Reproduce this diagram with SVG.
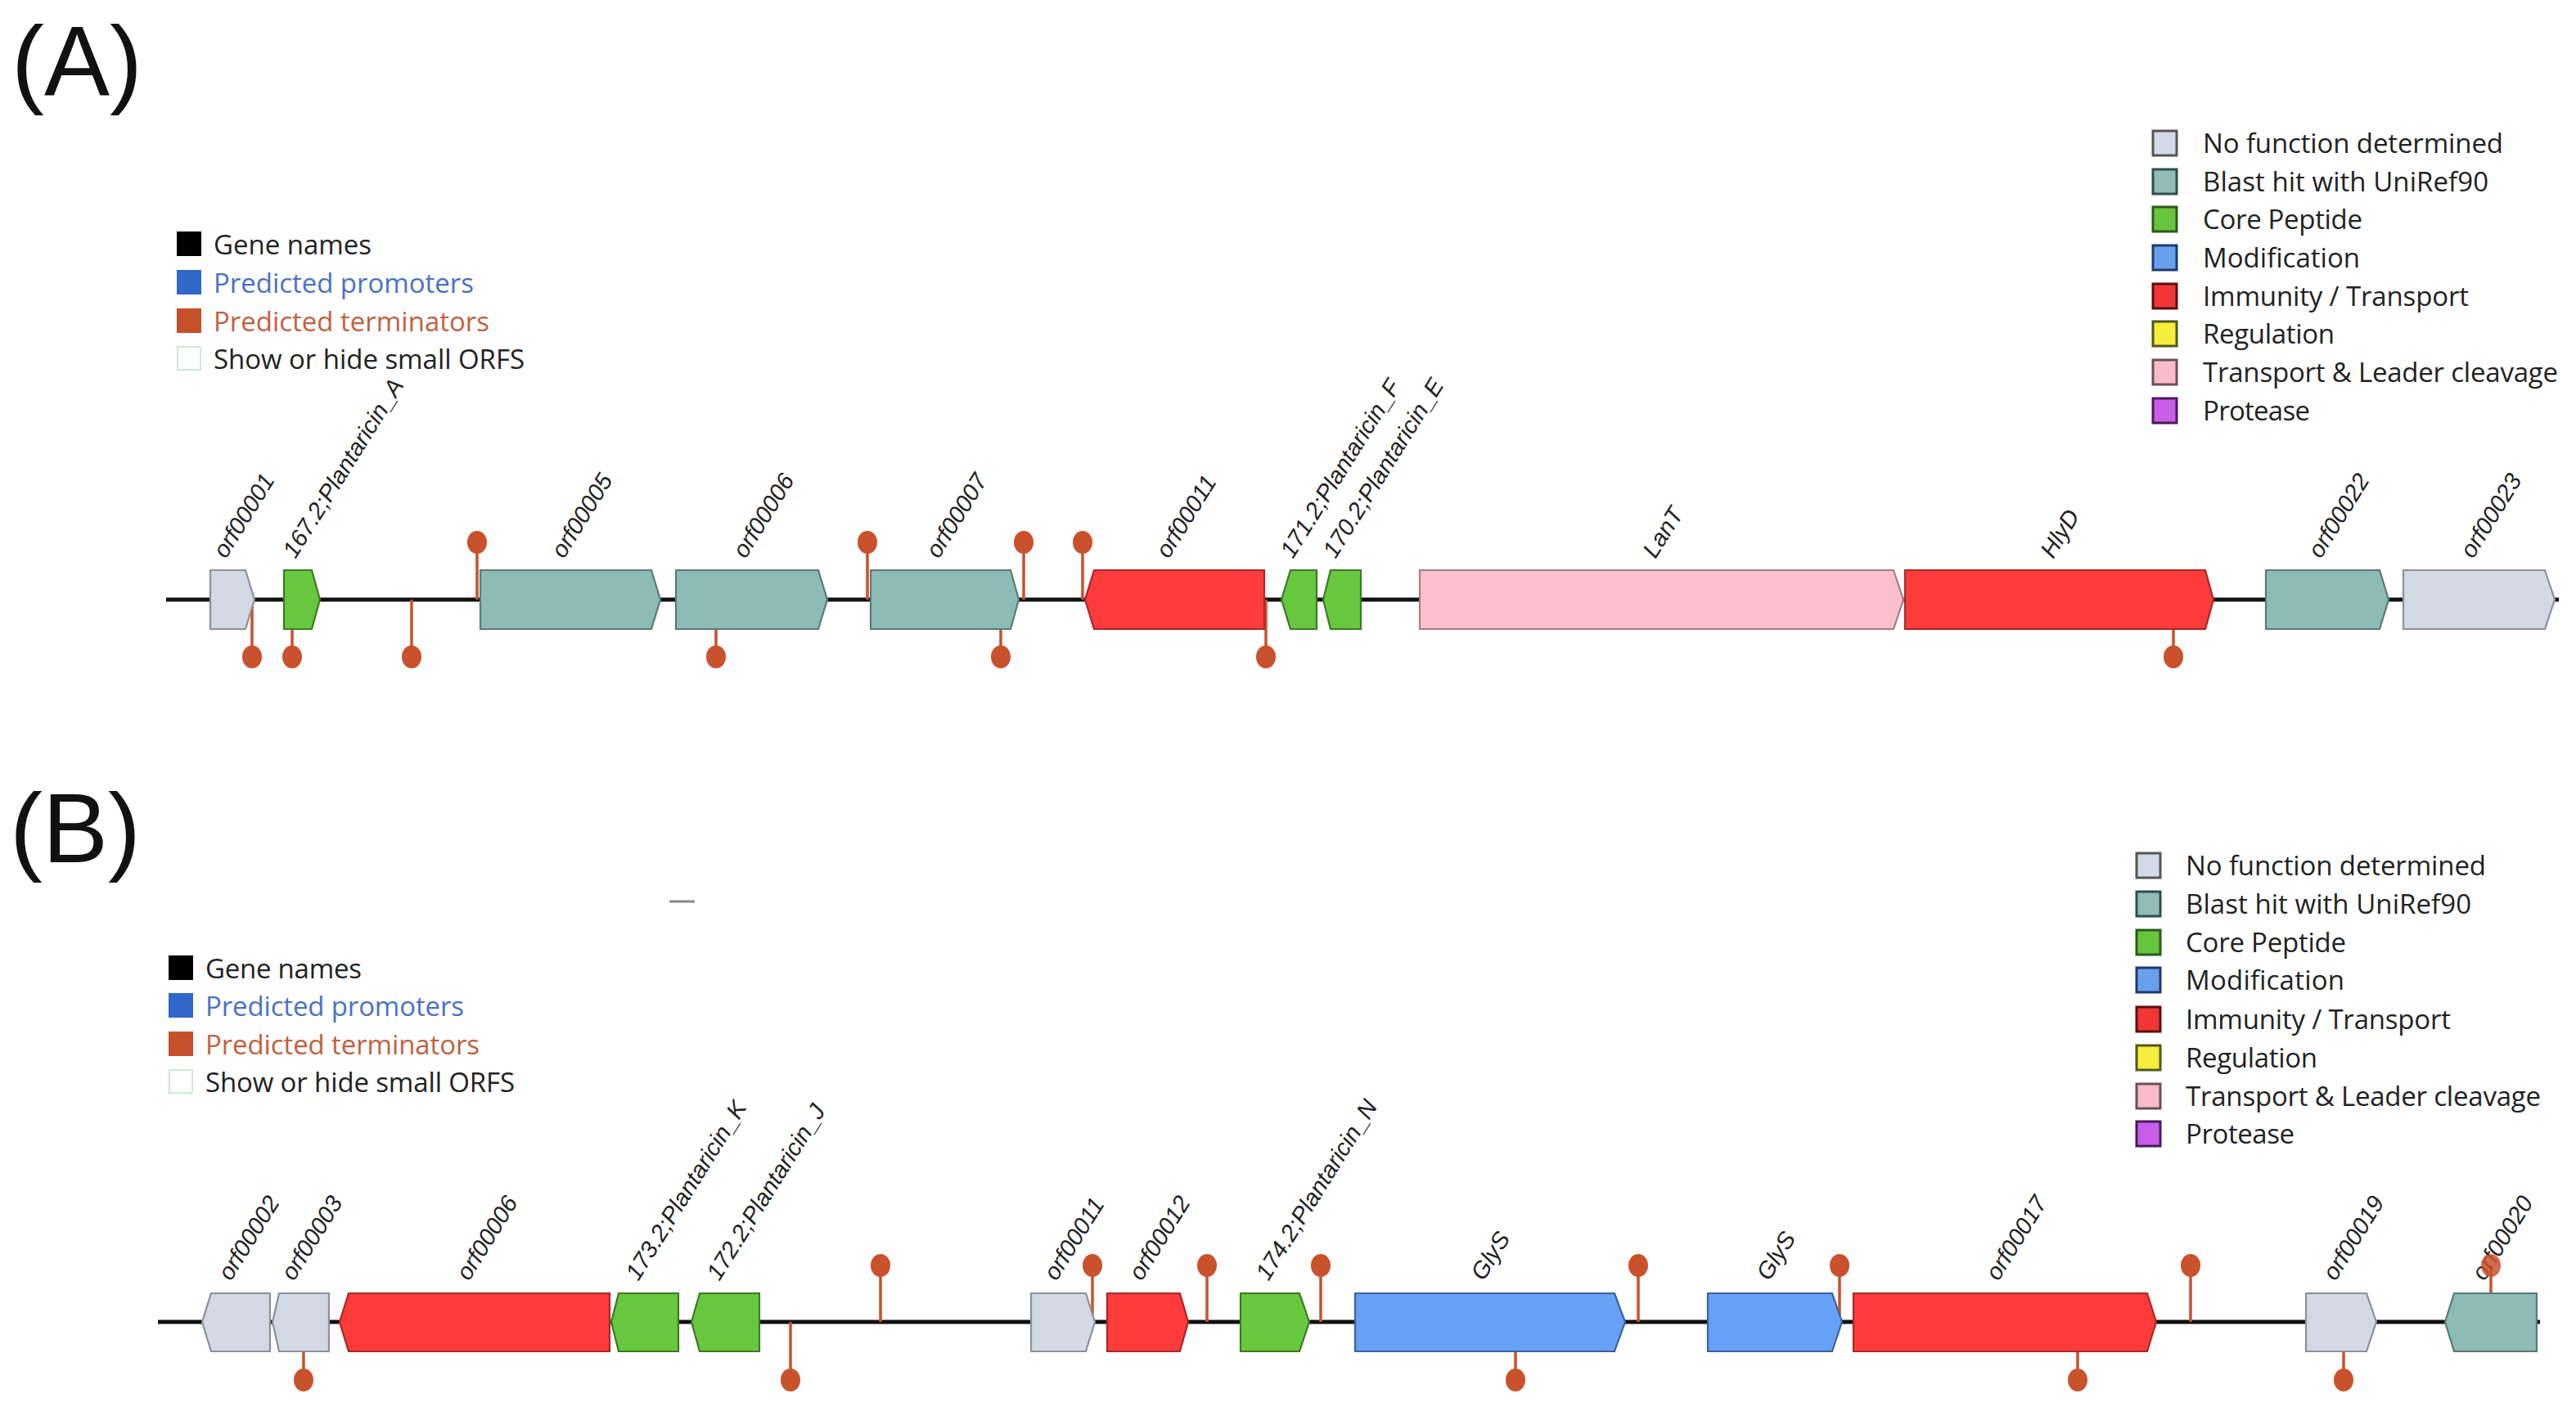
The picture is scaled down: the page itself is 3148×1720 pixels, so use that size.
<svg xmlns="http://www.w3.org/2000/svg" width="3148" height="1720" viewBox="0 0 3148 1720">
<style>
.bb{stroke:#111;stroke-width:5;fill:none}
.stem{stroke:#c9512b;stroke-width:3.5;fill:none}
.term{fill:#c9512b}
.g polygon{stroke-width:2.2}
.nf{fill:#d3d9e4;stroke:#8b9099}
.bh{fill:#8dbbb6;stroke:#5b7a76}
.cp{fill:#67c83f;stroke:#3d7a25}
.mo{fill:#66a0f7;stroke:#3d6296}
.it{fill:#fd3b3b;stroke:#a82828}
.tl{fill:#fdbfcb;stroke:#9d7f87}
.lbl{font-family:"Liberation Sans",Arial,sans-serif;font-style:italic;font-size:29px;fill:#222}
.leg{font-family:"Open Sans","Liberation Sans",sans-serif;font-size:33px;fill:#222}
.panel{font-family:"Liberation Sans",Arial,sans-serif;font-size:120px;fill:#111}
.ls{stroke-width:3}
</style>

<!-- Panel labels -->
<text class="panel" x="14" y="116">(A)</text>
<text class="panel" x="12" y="1054">(B)</text>
<line x1="818" y1="1102" x2="849" y2="1102" stroke="#888" stroke-width="3"/>

<!-- Left legends -->
<g id="legendA-left">
  <rect x="216" y="283" width="30" height="30" fill="#000"/>
  <text class="leg" x="261" y="311" textLength="193">Gene names</text>
  <rect x="216" y="330" width="30" height="30" fill="#2f68c8"/>
  <text class="leg" x="261" y="358" textLength="318" style="fill:#4a72c4">Predicted promoters</text>
  <rect x="216" y="377" width="30" height="30" fill="#c5502a"/>
  <text class="leg" x="261" y="405" textLength="337" style="fill:#c4603f">Predicted terminators</text>
  <rect x="217" y="424" width="28" height="28" fill="#fff" stroke="#cfe8d8" stroke-width="2"/>
  <text class="leg" x="261" y="451" textLength="380">Show or hide small ORFS</text>
</g>
<g id="legendB-left">
  <rect x="206" y="1168" width="30" height="30" fill="#000"/>
  <text class="leg" x="251" y="1196" textLength="191">Gene names</text>
  <rect x="206" y="1214" width="30" height="30" fill="#2f68c8"/>
  <text class="leg" x="251" y="1242" textLength="316" style="fill:#4a72c4">Predicted promoters</text>
  <rect x="206" y="1261" width="30" height="30" fill="#c5502a"/>
  <text class="leg" x="251" y="1289" textLength="335" style="fill:#c4603f">Predicted terminators</text>
  <rect x="207" y="1308" width="28" height="28" fill="#fff" stroke="#cfe8d8" stroke-width="2"/>
  <text class="leg" x="251" y="1335" textLength="378">Show or hide small ORFS</text>
</g>

<!-- Right legends -->
<g id="legendA-right">
  <rect class="ls" x="2631" y="160" width="29" height="30" fill="#d3d9e6" stroke="#555"/>
  <text class="leg" x="2692" y="187" textLength="367">No function determined</text>
  <rect class="ls" x="2631" y="207" width="29" height="30" fill="#8fbcb7" stroke="#2f4f4b"/>
  <text class="leg" x="2692" y="234" textLength="349">Blast hit with UniRef90</text>
  <rect class="ls" x="2631" y="253" width="29" height="30" fill="#66c43d" stroke="#2c5a1a"/>
  <text class="leg" x="2692" y="280" textLength="195">Core Peptide</text>
  <rect class="ls" x="2631" y="300" width="29" height="30" fill="#68a0ee" stroke="#1f3a6b"/>
  <text class="leg" x="2692" y="327" textLength="192">Modification</text>
  <rect class="ls" x="2631" y="347" width="29" height="30" fill="#f23535" stroke="#5a1010"/>
  <text class="leg" x="2692" y="374" textLength="325">Immunity / Transport</text>
  <rect class="ls" x="2631" y="393" width="29" height="30" fill="#f5ee3d" stroke="#555520"/>
  <text class="leg" x="2692" y="420" textLength="161">Regulation</text>
  <rect class="ls" x="2631" y="440" width="29" height="30" fill="#f7bcc8" stroke="#6b5058"/>
  <text class="leg" x="2692" y="467" textLength="434">Transport &amp; Leader cleavage</text>
  <rect class="ls" x="2631" y="487" width="29" height="30" fill="#c85de8" stroke="#4a1a5a"/>
  <text class="leg" x="2692" y="514" textLength="131">Protease</text>
</g>
<g id="legendB-right">
  <rect class="ls" x="2611" y="1043" width="29" height="30" fill="#d3d9e6" stroke="#555"/>
  <text class="leg" x="2671" y="1070" textLength="367">No function determined</text>
  <rect class="ls" x="2611" y="1090" width="29" height="30" fill="#8fbcb7" stroke="#2f4f4b"/>
  <text class="leg" x="2671" y="1117" textLength="349">Blast hit with UniRef90</text>
  <rect class="ls" x="2611" y="1137" width="29" height="30" fill="#66c43d" stroke="#2c5a1a"/>
  <text class="leg" x="2671" y="1164" textLength="196">Core Peptide</text>
  <rect class="ls" x="2611" y="1183" width="29" height="30" fill="#68a0ee" stroke="#1f3a6b"/>
  <text class="leg" x="2671" y="1210" textLength="194">Modification</text>
  <rect class="ls" x="2611" y="1231" width="29" height="30" fill="#f23535" stroke="#5a1010"/>
  <text class="leg" x="2671" y="1258" textLength="324">Immunity / Transport</text>
  <rect class="ls" x="2611" y="1278" width="29" height="30" fill="#f5ee3d" stroke="#555520"/>
  <text class="leg" x="2671" y="1305" textLength="161">Regulation</text>
  <rect class="ls" x="2611" y="1325" width="29" height="30" fill="#f7bcc8" stroke="#6b5058"/>
  <text class="leg" x="2671" y="1352" textLength="434">Transport &amp; Leader cleavage</text>
  <rect class="ls" x="2611" y="1371" width="29" height="30" fill="#c85de8" stroke="#4a1a5a"/>
  <text class="leg" x="2671" y="1398" textLength="133">Protease</text>
</g>

<!-- Connectors: backbones and terminator stems -->
<g id="connectors">
  <line class="bb" x1="203" y1="733" x2="3127" y2="733"/>
  <line class="bb" x1="193" y1="1616" x2="3104" y2="1616"/>
  <line class="stem" x1="308" y1="733" x2="308" y2="803"/>
  <line class="stem" x1="357" y1="733" x2="357" y2="803"/>
  <line class="stem" x1="503" y1="733" x2="503" y2="803"/>
  <line class="stem" x1="875" y1="733" x2="875" y2="803"/>
  <line class="stem" x1="1223" y1="733" x2="1223" y2="803"/>
  <line class="stem" x1="1547" y1="733" x2="1547" y2="803"/>
  <line class="stem" x1="2656" y1="733" x2="2656" y2="803"/>
  <line class="stem" x1="583" y1="733" x2="583" y2="663"/>
  <line class="stem" x1="1060" y1="733" x2="1060" y2="663"/>
  <line class="stem" x1="1251" y1="733" x2="1251" y2="663"/>
  <line class="stem" x1="1323" y1="733" x2="1323" y2="663"/>
  <line class="stem" x1="371" y1="1616" x2="371" y2="1687"/>
  <line class="stem" x1="966" y1="1616" x2="966" y2="1687"/>
  <line class="stem" x1="1852" y1="1616" x2="1852" y2="1687"/>
  <line class="stem" x1="2539" y1="1616" x2="2539" y2="1687"/>
  <line class="stem" x1="2864" y1="1616" x2="2864" y2="1687"/>
  <line class="stem" x1="1076" y1="1616" x2="1076" y2="1547"/>
  <line class="stem" x1="1335" y1="1616" x2="1335" y2="1547"/>
  <line class="stem" x1="1475" y1="1616" x2="1475" y2="1547"/>
  <line class="stem" x1="1614" y1="1616" x2="1614" y2="1547"/>
  <line class="stem" x1="2002" y1="1616" x2="2002" y2="1547"/>
  <line class="stem" x1="2248" y1="1616" x2="2248" y2="1547"/>
  <line class="stem" x1="2677" y1="1616" x2="2677" y2="1547"/>
  <line class="stem" x1="3044" y1="1616" x2="3044" y2="1547"/>
</g>

<!-- Terminator heads -->
<g id="terminators">
  <ellipse class="term" cx="308" cy="803" rx="12" ry="14"/>
  <ellipse class="term" cx="357" cy="803" rx="12" ry="14"/>
  <ellipse class="term" cx="503" cy="803" rx="12" ry="14"/>
  <ellipse class="term" cx="875" cy="803" rx="12" ry="14"/>
  <ellipse class="term" cx="1223" cy="803" rx="12" ry="14"/>
  <ellipse class="term" cx="1547" cy="803" rx="12" ry="14"/>
  <ellipse class="term" cx="2656" cy="803" rx="12" ry="14"/>
  <ellipse class="term" cx="583" cy="663" rx="12" ry="14"/>
  <ellipse class="term" cx="1060" cy="663" rx="12" ry="14"/>
  <ellipse class="term" cx="1251" cy="663" rx="12" ry="14"/>
  <ellipse class="term" cx="1323" cy="663" rx="12" ry="14"/>
  <ellipse class="term" cx="371" cy="1687" rx="12" ry="14"/>
  <ellipse class="term" cx="966" cy="1687" rx="12" ry="14"/>
  <ellipse class="term" cx="1852" cy="1687" rx="12" ry="14"/>
  <ellipse class="term" cx="2539" cy="1687" rx="12" ry="14"/>
  <ellipse class="term" cx="2864" cy="1687" rx="12" ry="14"/>
  <ellipse class="term" cx="1076" cy="1547" rx="12" ry="14"/>
  <ellipse class="term" cx="1335" cy="1547" rx="12" ry="14"/>
  <ellipse class="term" cx="1475" cy="1547" rx="12" ry="14"/>
  <ellipse class="term" cx="1614" cy="1547" rx="12" ry="14"/>
  <ellipse class="term" cx="2002" cy="1547" rx="12" ry="14"/>
  <ellipse class="term" cx="2248" cy="1547" rx="12" ry="14"/>
  <ellipse class="term" cx="2677" cy="1547" rx="12" ry="14"/>
</g>

<!-- Panel A genes -->
<g id="A-orf00001" class="g"><polygon class="nf" points="257,697 300,697 311,733 300,769 257,769"/><text class="lbl" transform="translate(276,684) rotate(-58)">orf00001</text></g>
<g id="A-plnA" class="g"><polygon class="cp" points="347,697 381,697 391,733 381,769 347,769"/><text class="lbl" transform="translate(361,684) rotate(-58)">167.2;Plantaricin_A</text></g>
<g id="A-orf00005" class="g"><polygon class="bh" points="587,697 796,697 807,733 796,769 587,769"/><text class="lbl" transform="translate(689,684) rotate(-58)">orf00005</text></g>
<g id="A-orf00006" class="g"><polygon class="bh" points="826,697 1000,697 1011,733 1000,769 826,769"/><text class="lbl" transform="translate(911,684) rotate(-58)">orf00006</text></g>
<g id="A-orf00007" class="g"><polygon class="bh" points="1064,697 1235,697 1245,733 1235,769 1064,769"/><text class="lbl" transform="translate(1147,684) rotate(-58)">orf00007</text></g>
<g id="A-orf00011" class="g"><polygon class="it" points="1326,733 1337,697 1545,697 1545,769 1337,769"/><text class="lbl" transform="translate(1428,684) rotate(-58)">orf00011</text></g>
<g id="A-plnF" class="g"><polygon class="cp" points="1566,733 1577,697 1609,697 1609,769 1577,769"/><text class="lbl" transform="translate(1580,684) rotate(-58)">171.2;Plantaricin_F</text></g>
<g id="A-plnE" class="g"><polygon class="cp" points="1617,733 1626,697 1663,697 1663,769 1626,769"/><text class="lbl" transform="translate(1632,684) rotate(-58)">170.2;Plantaricin_E</text></g>
<g id="A-lanT" class="g"><polygon class="tl" points="1735,697 2314,697 2326,733 2314,769 1735,769"/><text class="lbl" transform="translate(2023,684) rotate(-58)">LanT</text></g>
<g id="A-hlyD" class="g"><polygon class="it" points="2328,697 2695,697 2705,733 2695,769 2328,769"/><text class="lbl" transform="translate(2509,684) rotate(-58)">HlyD</text></g>
<g id="A-orf00022" class="g"><polygon class="bh" points="2769,697 2908,697 2919,733 2908,769 2769,769"/><text class="lbl" transform="translate(2836,684) rotate(-58)">orf00022</text></g>
<g id="A-orf00023" class="g"><polygon class="nf" points="2937,697 3110,697 3122,733 3110,769 2937,769"/><text class="lbl" transform="translate(3022,684) rotate(-58)">orf00023</text></g>

<!-- Panel B genes -->
<g id="B-orf00002" class="g"><polygon class="nf" points="247,1616 258,1581 330,1581 330,1652 258,1652"/><text class="lbl" transform="translate(282,1567) rotate(-58)">orf00002</text></g>
<g id="B-orf00003" class="g"><polygon class="nf" points="333,1616 341,1581 402,1581 402,1652 341,1652"/><text class="lbl" transform="translate(359,1567) rotate(-58)">orf00003</text></g>
<g id="B-orf00006" class="g"><polygon class="it" points="415,1616 426,1581 745,1581 745,1652 426,1652"/><text class="lbl" transform="translate(573,1567) rotate(-58)">orf00006</text></g>
<g id="B-plnK" class="g"><polygon class="cp" points="747,1616 756,1581 829,1581 829,1652 756,1652"/><text class="lbl" transform="translate(780,1567) rotate(-58)">173.2;Plantaricin_K</text></g>
<g id="B-plnJ" class="g"><polygon class="cp" points="845,1616 855,1581 928,1581 928,1652 855,1652"/><text class="lbl" transform="translate(879,1567) rotate(-58)">172.2;Plantaricin_J</text></g>
<g id="B-orf00011" class="g"><polygon class="nf" points="1260,1581 1327,1581 1338,1616 1327,1652 1260,1652"/><text class="lbl" transform="translate(1291,1567) rotate(-58)">orf00011</text></g>
<g id="B-orf00012" class="g"><polygon class="it" points="1353,1581 1442,1581 1452,1616 1442,1652 1353,1652"/><text class="lbl" transform="translate(1395,1567) rotate(-58)">orf00012</text></g>
<g id="B-plnN" class="g"><polygon class="cp" points="1516,1581 1588,1581 1600,1616 1588,1652 1516,1652"/><text class="lbl" transform="translate(1550,1567) rotate(-58)">174.2;Plantaricin_N</text></g>
<g id="B-glyS1" class="g"><polygon class="mo" points="1656,1581 1973,1581 1986,1616 1973,1652 1656,1652"/><text class="lbl" transform="translate(1813,1567) rotate(-58)">GlyS</text></g>
<g id="B-glyS2" class="g"><polygon class="mo" points="2087,1581 2239,1581 2251,1616 2239,1652 2087,1652"/><text class="lbl" transform="translate(2162,1567) rotate(-58)">GlyS</text></g>
<g id="B-orf00017" class="g"><polygon class="it" points="2265,1581 2624,1581 2635,1616 2624,1652 2265,1652"/><text class="lbl" transform="translate(2442,1567) rotate(-58)">orf00017</text></g>
<g id="B-orf00019" class="g"><polygon class="nf" points="2818,1581 2892,1581 2904,1616 2892,1652 2818,1652"/><text class="lbl" transform="translate(2854,1567) rotate(-58)">orf00019</text></g>
<g id="B-orf00020" class="g"><polygon class="bh" points="2988,1616 2999,1581 3100,1581 3100,1652 2999,1652"/><text class="lbl" transform="translate(3036,1567) rotate(-58)">orf00020</text></g>
<ellipse class="term" cx="3044" cy="1547" rx="12" ry="14" opacity="0.85"/>
</svg>
